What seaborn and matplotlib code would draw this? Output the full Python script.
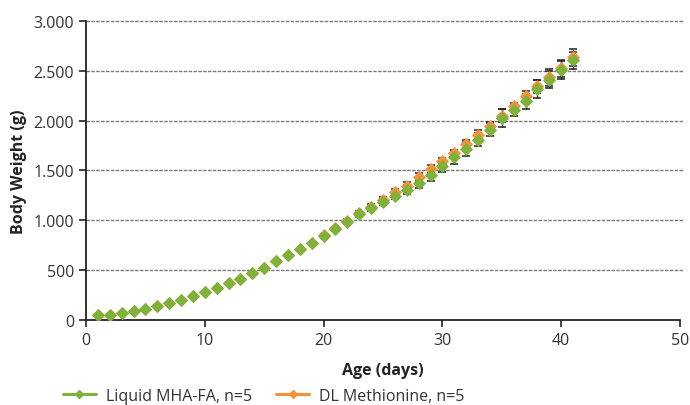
import matplotlib
matplotlib.use("Agg")
import matplotlib.pyplot as plt
from matplotlib.lines import Line2D
from matplotlib.ticker import FuncFormatter
import pandas as pd
import seaborn as sns

days = list(range(1, 42))
mha_fa = [50, 55, 75, 95, 115, 145, 175, 205, 245, 280,
          320, 372, 415, 468, 520, 588, 652, 712, 772, 845,
          912, 982, 1060, 1120, 1180, 1247, 1307, 1371, 1455, 1541,
          1632, 1715, 1809, 1910, 2023, 2106, 2193, 2317, 2410, 2510,
          2608]
dl_met = [50, 55, 75, 95, 115, 145, 175, 205, 245, 280,
          320, 372, 415, 468, 520, 588, 652, 712, 774, 848,
          920, 995, 1072, 1137, 1205, 1287, 1347, 1431, 1515, 1592,
          1675, 1765, 1859, 1950, 2050, 2143, 2250, 2343, 2434, 2527,
          2634]
mha_fa_sd = [2, 2, 3, 3, 4, 4, 5, 5, 6, 6,
             7, 7, 8, 8, 9, 10, 11, 12, 13, 14,
             16, 18, 22, 26, 30, 36, 43, 50, 58, 54,
             67, 67, 64, 65, 90, 56, 77, 94, 86, 93,
             85]
dl_met_sd = [2, 2, 3, 3, 4, 4, 5, 5, 6, 6,
             7, 7, 8, 8, 9, 10, 11, 12, 13, 14,
             16, 18, 20, 24, 28, 32, 37, 40, 40, 35,
             34, 44, 43, 36, 66, 33, 50, 67, 83, 85,
             85]
labels = ["Liquid MHA-FA, n=5", "DL Methionine, n=5"]
green = "#7fb23a"
orange = "#f2923a"

df = pd.DataFrame({
    "day": days * 2,
    "weight": mha_fa + dl_met,
    "sd": mha_fa_sd + dl_met_sd,
    "group": [labels[0]] * len(days) + [labels[1]] * len(days),
})

sns.set_theme(style="white")
plt.rcParams["font.family"] = ["Open Sans", "DejaVu Sans"]

fig = plt.figure(figsize=(6.9, 4.06), dpi=100)
ax = fig.add_axes([0.1246, 0.2094, 0.861, 0.7364])

# error bars behind markers; orange series first so green sits on top
for name in [labels[1], labels[0]]:
    s = df[df["group"] == name]
    ax.errorbar(s["day"], s["weight"], yerr=s["sd"], fmt="none",
                ecolor="#222222", elinewidth=1.0, capsize=3.2, capthick=1.1, zorder=2)

for name, col in [(labels[1], orange), (labels[0], green)]:
    sns.scatterplot(data=df[df["group"] == name], x="day", y="weight",
                    color=col, marker="D", s=45, linewidth=0,
                    legend=False, ax=ax, zorder=3)

ax.set_xlim(0, 50)
ax.set_ylim(0, 3000)
ax.set_xticks(range(0, 51, 10))
ax.set_yticks(range(0, 3001, 500))
ax.yaxis.set_major_formatter(FuncFormatter(lambda v, p: f"{int(v):,}".replace(",", ".")))

for yv in range(500, 3001, 500):
    ax.plot([0, 50.3], [yv, yv], color="#7a7a7a", lw=1.0, ls=(0, (2.5, 1)),
            zorder=1, clip_on=False)

sns.despine(ax=ax)
for side in ["left", "bottom"]:
    ax.spines[side].set_color("#222222")
    ax.spines[side].set_linewidth(1.3)
ax.tick_params(axis="both", which="major", direction="out", length=5, width=1.2,
               color="#222222", labelsize=11.5, labelcolor="#333333",
               bottom=True, left=True)

ax.set_xlabel("Age (days)", fontsize=11.5, fontweight="bold", color="#222222", labelpad=10)
ax.set_ylabel("Body Weight (g)", fontsize=11.5, fontweight="bold", color="#222222", labelpad=5)

handles = [
    Line2D([0], [0], color=green, lw=2.2, marker="D", markersize=4.5),
    Line2D([0], [0], color=orange, lw=2.2, marker="D", markersize=4.5),
]
fig.legend(handles, labels, loc="center left", bbox_to_anchor=(0.07, 0.022),
           ncol=2, frameon=False, fontsize=11.5, handlelength=2.1,
           handletextpad=0.6, columnspacing=1.5, labelcolor="#333333")

fig.savefig("out.png", dpi=100, facecolor="white")
